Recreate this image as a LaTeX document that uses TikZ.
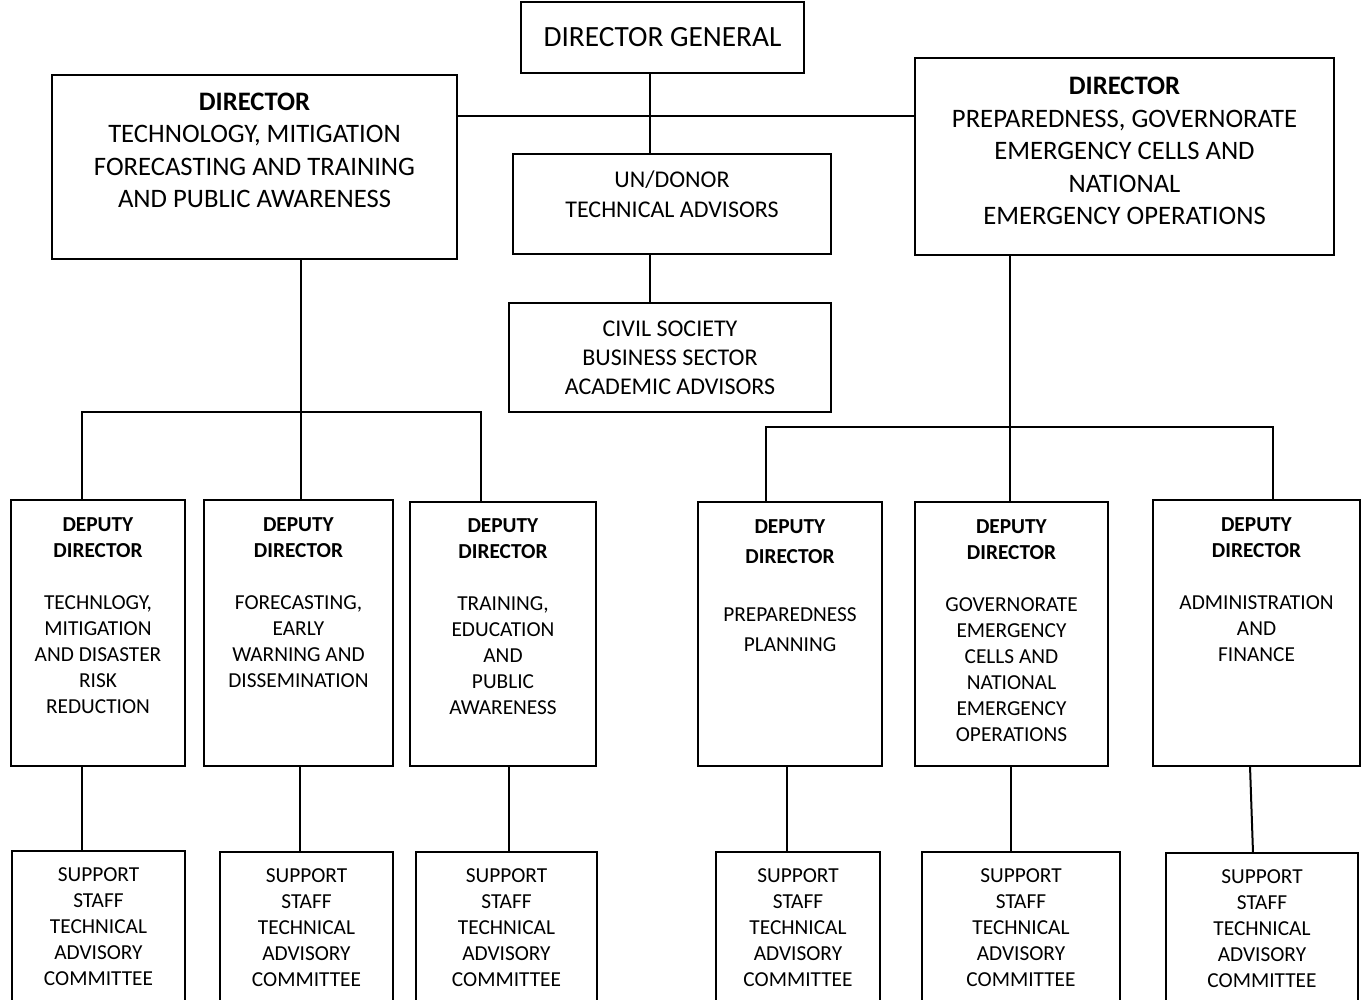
\documentclass[tikz,border=0pt]{standalone}
\usepackage{fontspec}
\setmainfont{Carlito}
% #1 width(pt) #2 height(pt) #3 top skip(pt) #4 font size #5 baselineskip #6 text
\newcommand{\bxt}[6]{\parbox[c][#2pt][t]{#1pt}{\fontsize{#4pt}{#5pt}\selectfont\centering\vspace*{#3pt}\strut #6\par}}
\tikzset{
  box/.style={draw, line width=1.5pt, inner sep=0pt, outer sep=0pt, anchor=north west},
  link/.style={line width=1.5pt},
}
\begin{document}
\begin{tikzpicture}[x=0.75pt,y=-0.75pt]
\useasboundingbox (0,0) rectangle (1362,999);
\clip (0,0) rectangle (1362,999);
% top level
\node[box] (dg) at (521,2) {\bxt{212.25}{53.25}{14.43}{22}{27}{DIRECTOR GENERAL}};
\node[box] (ld) at (52,75) {\bxt{303.75}{138}{9.75}{20}{24.2}{\textbf{DIRECTOR}\\TECHNOLOGY, MITIGATION\\FORECASTING AND TRAINING\\AND PUBLIC AWARENESS}};
\node[box] (rd) at (915,58) {\bxt{314.25}{147.75}{10.36}{20}{24.4}{\textbf{DIRECTOR}\\PREPAREDNESS, GOVERNORATE\\EMERGENCY CELLS AND\\NATIONAL\\EMERGENCY OPERATIONS}};
\node[box] (un) at (513,154) {\bxt{238.5}{75}{9.55}{18}{22.5}{UN/DONOR\\TECHNICAL ADVISORS}};
\node[box] (cs) at (509,303) {\bxt{241.5}{81.75}{9.57}{18}{21.75}{CIVIL SOCIETY\\BUSINESS SECTOR\\ACADEMIC ADVISORS}};
% deputies
\node[box] (d1) at (11,500) {\bxt{130.5}{199.5}{10.25}{16}{19.5}{\textbf{DEPUTY}\\\textbf{DIRECTOR}\\[19.5pt]TECHNLOGY,\\MITIGATION\\AND DISASTER\\RISK\\REDUCTION}};
\node[box] (d2) at (204,500) {\bxt{141.75}{199.5}{10.25}{16}{19.5}{\textbf{DEPUTY}\\\textbf{DIRECTOR}\\[19.5pt]FORECASTING,\\EARLY\\WARNING AND\\DISSEMINATION}};
\node[box] (d3) at (410,502) {\bxt{139.5}{198}{9.5}{16}{19.5}{\textbf{DEPUTY}\\\textbf{DIRECTOR}\\[19.5pt]TRAINING,\\EDUCATION\\AND\\PUBLIC\\AWARENESS}};
\node[box] (d4) at (698,502) {\bxt{138}{198}{8.5}{16}{22}{\textbf{DEPUTY}\\\textbf{DIRECTOR}\\[22pt]PREPAREDNESS\\PLANNING}};
\node[box] (d5) at (915,502) {\bxt{144.75}{198}{10.25}{16}{19.5}{\textbf{DEPUTY}\\\textbf{DIRECTOR}\\[19.5pt]GOVERNORATE\\EMERGENCY\\CELLS AND\\NATIONAL\\EMERGENCY\\OPERATIONS}};
\node[box] (d6) at (1153,500) {\bxt{155.25}{199.5}{10.25}{16}{19.5}{\textbf{DEPUTY}\\\textbf{DIRECTOR}\\[19.5pt]ADMINISTRATION\\AND\\FINANCE}};
% support
\node[box] (s1) at (12,851) {\bxt{129.75}{150}{9.5}{16}{19.5}{SUPPORT\\STAFF\\TECHNICAL\\ADVISORY\\COMMITTEE}};
\node[box] (s2) at (220,852) {\bxt{129.75}{150}{9.5}{16}{19.5}{SUPPORT\\STAFF\\TECHNICAL\\ADVISORY\\COMMITTEE}};
\node[box] (s3) at (416,852) {\bxt{135.75}{150}{9.5}{16}{19.5}{SUPPORT\\STAFF\\TECHNICAL\\ADVISORY\\COMMITTEE}};
\node[box] (s4) at (716,852) {\bxt{123}{150}{9.5}{16}{19.5}{SUPPORT\\STAFF\\TECHNICAL\\ADVISORY\\COMMITTEE}};
\node[box] (s5) at (922,852) {\bxt{148.5}{150}{9.5}{16}{19.5}{SUPPORT\\STAFF\\TECHNICAL\\ADVISORY\\COMMITTEE}};
\node[box] (s6) at (1166,853) {\bxt{144}{150}{9.5}{16}{19.5}{SUPPORT\\STAFF\\TECHNICAL\\ADVISORY\\COMMITTEE}};
% helper coordinates for connector positions
\coordinate (xdg) at (650,0);
\coordinate (ytop) at (0,116);
\coordinate (xl) at (301,0);
\coordinate (yl) at (0,412);
\coordinate (xr) at (1010,0);
\coordinate (yr) at (0,427);
\coordinate (k1) at (82,0);
\coordinate (k2) at (300,0);
\coordinate (k3) at (481,0);
\coordinate (k3b) at (509,0);
\coordinate (k4) at (766,0);
\coordinate (k4b) at (787,0);
\coordinate (k5) at (1011,0);
\coordinate (k6) at (1273,0);
\coordinate (k6a) at (1250,0);
\coordinate (k6b) at (1253,0);
% connectors
\draw[link] (dg.south -| xdg) -- (un.north -| xdg);
\draw[link] (un.south -| xdg) -- (cs.north -| xdg);
\draw[link] (ld.east |- ytop) -- (rd.west |- ytop);
\draw[link] (ld.south -| xl) -- (d2.north -| xl);
\draw[link] (d1.north -| k1) -- (k1 |- yl) -- (k3 |- yl) -- (d3.north -| k3);
\draw[link] (rd.south -| xr) -- (d5.north -| xr);
\draw[link] (d4.north -| k4) -- (k4 |- yr) -- (k6 |- yr) -- (d6.north -| k6);
\draw[link] (d1.south -| k1) -- (s1.north -| k1);
\draw[link] (d2.south -| k2) -- (s2.north -| k2);
\draw[link] (d3.south -| k3b) -- (s3.north -| k3b);
\draw[link] (d4.south -| k4b) -- (s4.north -| k4b);
\draw[link] (d5.south -| k5) -- (s5.north -| k5);
\draw[link] (d6.south -| k6a) -- (s6.north -| k6b);
\end{tikzpicture}
\end{document}
